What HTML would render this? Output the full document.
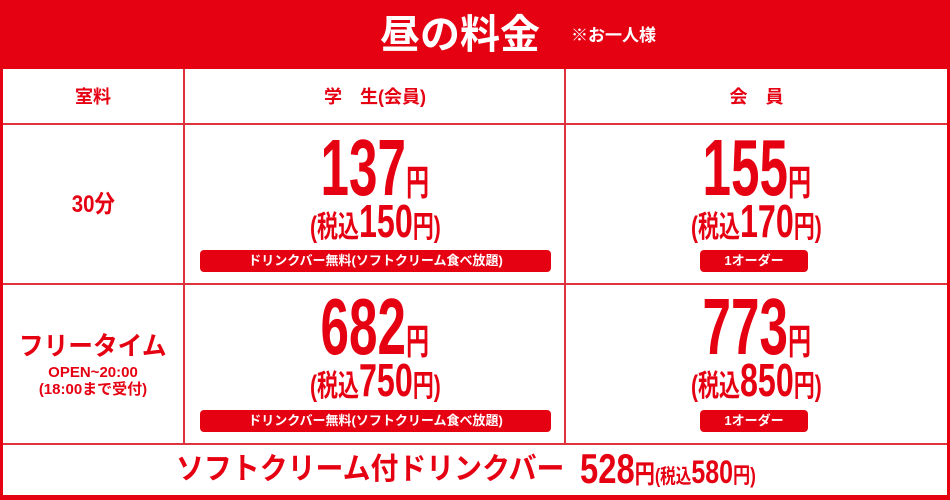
<!DOCTYPE html>
<html><head><meta charset="utf-8"><style>
*{margin:0;padding:0;box-sizing:border-box}
body{width:950px;height:500px;background:#e50012;position:relative;overflow:hidden;font-family:"Liberation Sans","Noto Sans CJK JP",sans-serif;font-weight:bold;color:#e50012}
.a{position:absolute}
.w{position:absolute;background:#fff}
.l{position:absolute;background:#e0323e}
.c{position:absolute;text-align:center;white-space:nowrap}
.s{display:inline-block}
.badge{position:absolute;background:#e50012;color:#fff;border-radius:4px;font-size:13px;text-align:center;line-height:22px;height:22px;white-space:nowrap}
</style></head><body>
<div class="w" style="left:3px;top:69px;width:944px;height:426px"></div>
<div class="l" style="left:3px;top:123px;width:944px;height:2px"></div>
<div class="l" style="left:3px;top:283px;width:944px;height:2px"></div>
<div class="l" style="left:3px;top:443px;width:944px;height:2px"></div>
<div class="l" style="left:183px;top:69px;width:2px;height:375px"></div>
<div class="l" style="left:564px;top:69px;width:2px;height:375px"></div>

<div class="c" style="left:380px;top:11px;color:#fff;font-size:40px;line-height:48px">昼の料金</div>
<div class="c" style="left:571px;top:25px;color:#fff;font-size:17px;line-height:22px">※お一人様</div>

<div class="c" style="left:3px;width:180px;top:84px;font-size:18px;line-height:26px">室料</div>
<div class="c" style="left:185px;width:380px;top:84px;font-size:18px;line-height:26px">学　生(会員)</div>
<div class="c" style="left:566px;width:381px;top:84px;font-size:18px;line-height:26px">会　員</div>

<div class="c" style="left:3px;width:180px;top:190px;font-size:24px;line-height:30px"><span class="s" style="transform:scaleX(.85)">30分</span></div>
<div class="c" style="left:3px;width:180px;top:330px;font-size:26px;line-height:32px"><span class="s" style="transform:scaleX(.95)">フリータイム</span></div>
<div class="c" style="left:3px;width:180px;top:364px;font-size:15px;line-height:17px">OPEN~20:00<br>(18:00まで受付)</div>

<!-- row1 -->
<div class="c" style="left:185px;width:380px;top:128px;font-size:80px;line-height:80px"><span class="s" style="transform:scaleX(.64)">137<span style="font-size:36px">円</span></span></div>
<div class="c" style="left:185px;width:380px;top:198px;font-size:46px;line-height:46px"><span class="s" style="transform:scaleX(.7)"><span style="font-size:30px">(税込</span>150<span style="font-size:30px">円)</span></span></div>
<div class="badge" style="left:200px;top:250px;width:351px">ドリンクバー無料(ソフトクリーム食べ放題)</div>
<div class="c" style="left:566px;width:381px;top:128px;font-size:80px;line-height:80px"><span class="s" style="transform:scaleX(.64)">155<span style="font-size:36px">円</span></span></div>
<div class="c" style="left:566px;width:381px;top:198px;font-size:46px;line-height:46px"><span class="s" style="transform:scaleX(.7)"><span style="font-size:30px">(税込</span>170<span style="font-size:30px">円)</span></span></div>
<div class="badge" style="left:700px;top:250px;width:108px">1オーダー</div>

<!-- row2 -->
<div class="c" style="left:185px;width:380px;top:287px;font-size:80px;line-height:80px"><span class="s" style="transform:scaleX(.64)">682<span style="font-size:36px">円</span></span></div>
<div class="c" style="left:185px;width:380px;top:357px;font-size:46px;line-height:46px"><span class="s" style="transform:scaleX(.7)"><span style="font-size:30px">(税込</span>750<span style="font-size:30px">円)</span></span></div>
<div class="badge" style="left:200px;top:410px;width:351px">ドリンクバー無料(ソフトクリーム食べ放題)</div>
<div class="c" style="left:566px;width:381px;top:287px;font-size:80px;line-height:80px"><span class="s" style="transform:scaleX(.64)">773<span style="font-size:36px">円</span></span></div>
<div class="c" style="left:566px;width:381px;top:357px;font-size:46px;line-height:46px"><span class="s" style="transform:scaleX(.7)"><span style="font-size:30px">(税込</span>850<span style="font-size:30px">円)</span></span></div>
<div class="badge" style="left:700px;top:410px;width:108px">1オーダー</div>

<!-- bottom -->
<div class="c" style="left:176px;top:452px;font-size:30px;line-height:36px;transform-origin:left center;transform:scaleX(.93)">ソフトクリーム付ドリンクバー</div>
<div class="c" style="left:580px;top:446px;font-size:42px;line-height:46px;transform-origin:left center;transform:scaleX(.78)">528<span style="font-size:26px">円</span><span style="font-size:20px">(税込</span><span style="font-size:32px">580</span><span style="font-size:22px">円)</span></div>
</body></html>
